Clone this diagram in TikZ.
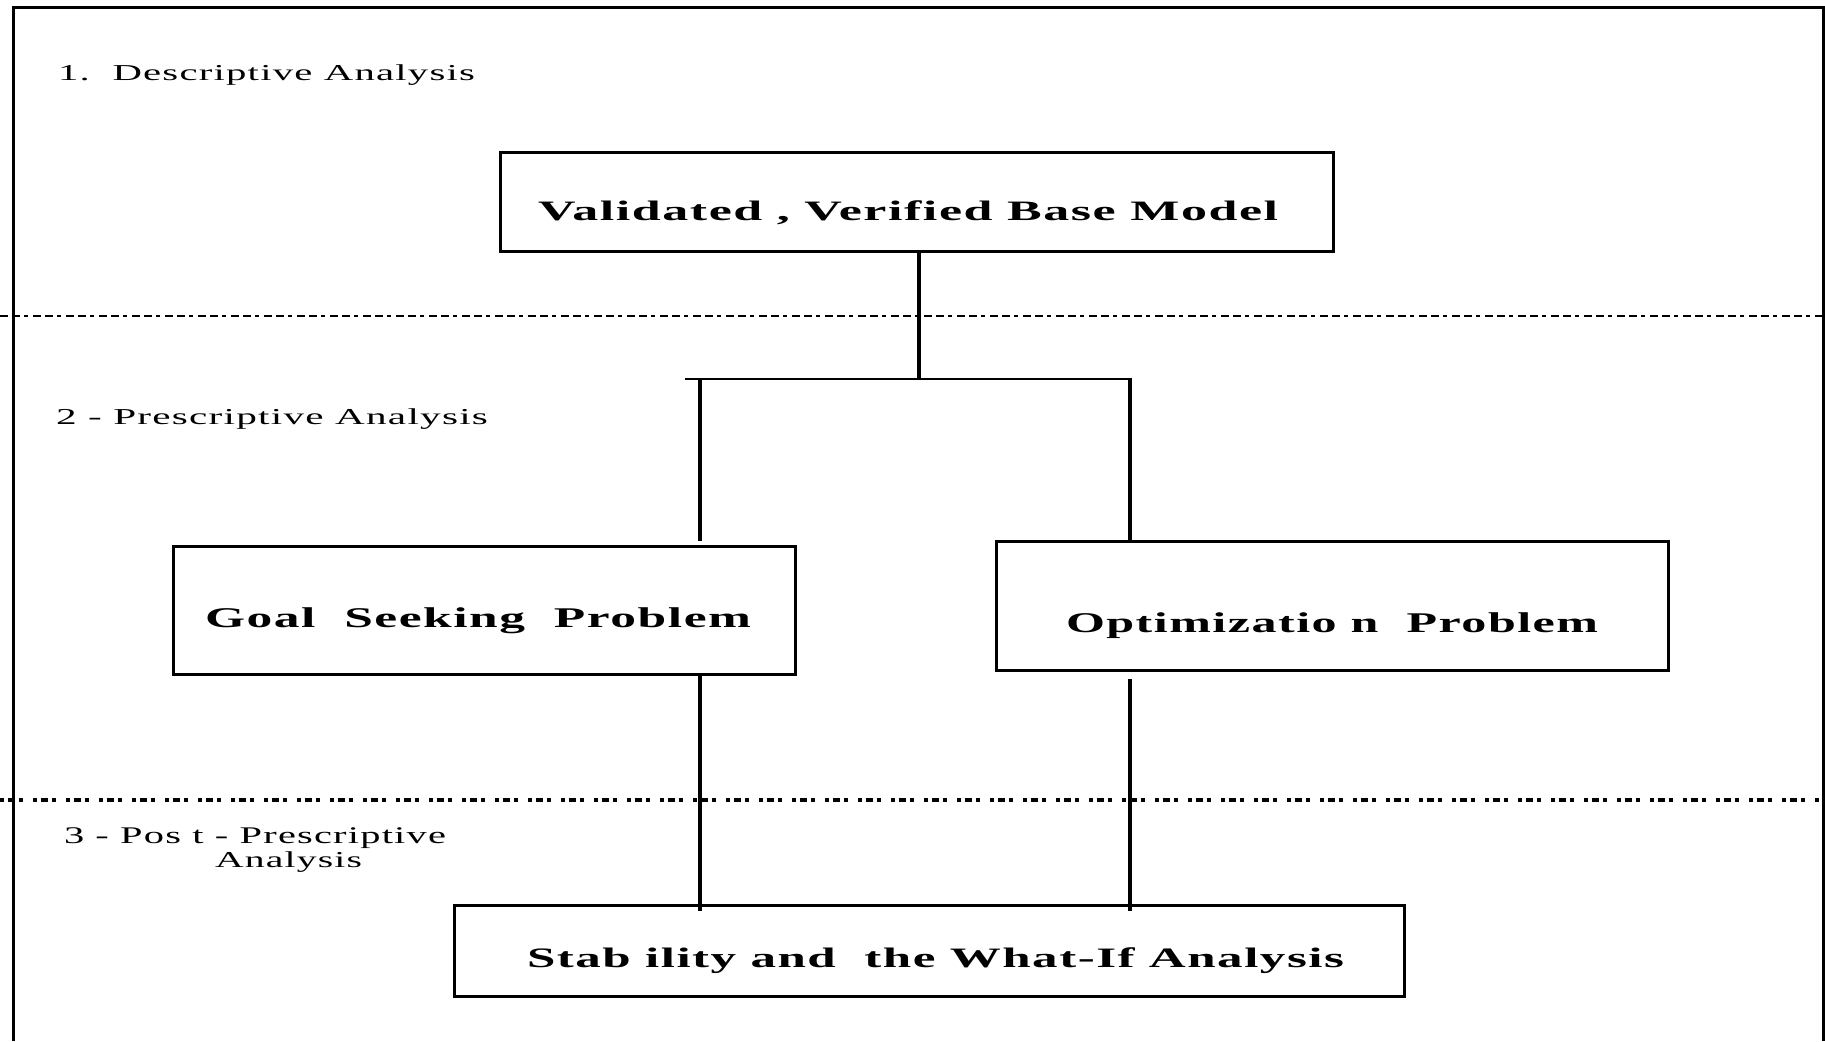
\documentclass[tikz,border=0pt]{standalone}
\usepackage{fontspec}
\usepackage{graphicx}
\setmainfont{Liberation Serif}
\newfontfamily\spacedserif[LetterSpace=3]{Liberation Serif}

% text squeezed/stretched to a given width and height (in pt)
\newcommand{\fittext}[3]{\resizebox{#1pt}{#2pt}{\spacedserif #3}}
\newcommand{\fitbold}[3]{\resizebox{#1pt}{#2pt}{\spacedserif\bfseries #3}}

\tikzset{
  frame/.style={line width=1.5pt},
  stageline/.style={line width=1.1pt,
    dash pattern=on 4pt off 2pt on 4pt off 2pt on 2pt off 2.5pt},
  stagebold/.style={line width=1.7pt,
    dash pattern=on 1.75pt off 2pt on 3.75pt off 2pt on 2pt off 5pt},
  box/.style={draw, rectangle, line width=1.5pt, inner sep=0pt},
  link/.style={line width=1.6pt},
  bar/.style={line width=1.2pt},
  txt/.style={anchor=base west, inner sep=0pt, outer sep=0pt},
}

\begin{document}
\begin{tikzpicture}[x=0.5pt,y=-0.5pt]
\useasboundingbox (0,0) rectangle (1825,1041);
\fill[white] (0,0) rectangle (1825,1041);

% outer frame (open at the bottom)
\draw[frame] (13,1041) -- (13,7) -- (1823,7) -- (1823,1041);

% stage separators
\draw[stageline] (0,316) -- (1822,316);
\draw[stagebold] (0,800) -- (1822,800);

% stage titles
\node[txt] (s1) at (58,80)  {\fittext{208.5}{7.9}{1.\ \ Descriptive Analysis}};
\node[txt] (s2) at (56,424) {\fittext{216}{7.9}{2 - Prescriptive Analysis}};
\node[txt] (s3a) at (64,843) {\fittext{191}{7.9}{3 - Pos t - Prescriptive}};
\node[txt] (s3b) at (215,867) {\fittext{73.5}{7.9}{Analysis}};

% boxes
\node[box, minimum width=416.5pt, minimum height=49.5pt] (base) at (916.5,201.5) {};
\node[box, minimum width=311pt, minimum height=64pt] (goal) at (484,610) {};
\node[box, minimum width=336pt, minimum height=64.5pt] (opt) at (1332,605.5) {};
\node[box, minimum width=475pt, minimum height=45.5pt] (stab) at (929,950.5) {};

% box texts
\node[txt] (baseT) at (538,220.5) {\fitbold{370}{9.9}{Validated , Verified Base Model}};
\node[txt] (goalT) at (205,627) {\fitbold{273}{9.9}{Goal\ \ Seeking\ \ Problem}};
\node[txt] (optT) at (1066,632) {\fitbold{266}{9.9}{Optimizatio n\ \ Problem}};
\node[txt] (stabT) at (527,967) {\fitbold{408.5}{9.9}{Stab ility and\ \ the What-If Analysis}};

% branching connectors
\coordinate (split) at (919,379);
\coordinate (barL) at (685,379);
\coordinate (barR) at (1132,379);
\coordinate (dropL) at (700,541);
\coordinate (dropR) at (1130,541);

\draw[link] (base.south -| split) -- (split);
\draw[bar] (barL) -- (barR);
\draw[link] (barL -| dropL) -- (dropL);
\draw[link] (barR -| dropR) -- (opt.north -| dropR);

\draw[link] (goal.south -| dropL) -- ([yshift=-3.5pt]stab.north -| dropL);
\draw[link] ([yshift=-3.5pt]opt.south -| dropR) -- ([yshift=-3.5pt]stab.north -| dropR);
\end{tikzpicture}
\end{document}
